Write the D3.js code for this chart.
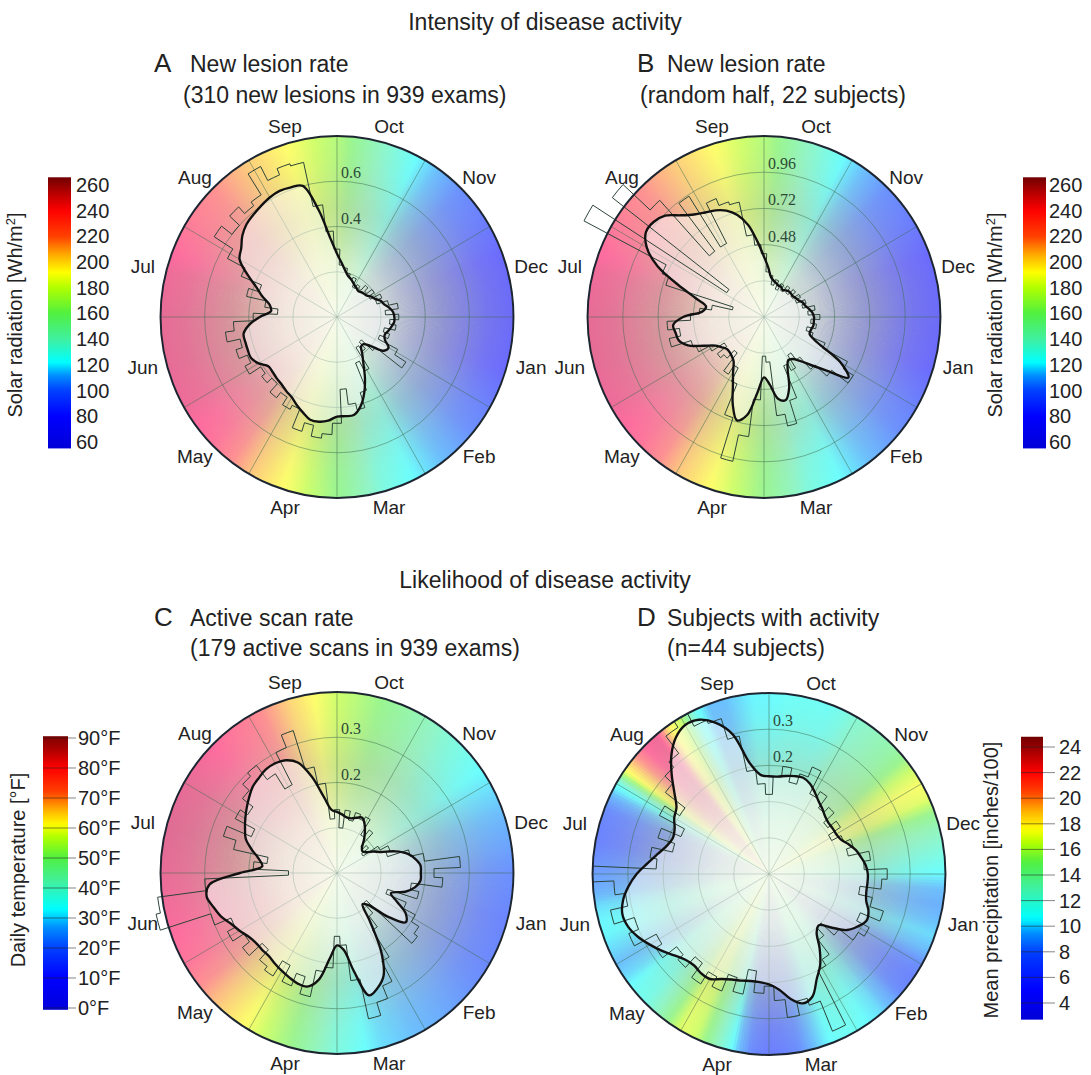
<!DOCTYPE html>
<html>
<head>
<meta charset="utf-8">
<script src="https://cdn.jsdelivr.net/npm/d3@7"></script>
<style>
  body { margin: 0; background: #fff; }
  text { font-family: "Liberation Sans", Arial, sans-serif; fill: #222; }
</style>
</head>
<body>
<svg id="fig" width="1091" height="1075"></svg>
<script>
// months clockwise from 12 o'clock, Oct first
var months = ["Oct","Nov","Dec","Jan","Feb","Mar","Apr","May","Jun","Jul","Aug","Sep"];

// rates read every 5 degrees clockwise from the Sep/Oct line
var rateA_smooth = [0.28,0.24,0.21,0.19,0.18,0.17,0.16,0.155,0.15,0.155,0.16,0.165,
  0.18,0.19,0.21,0.22,0.24,0.255,0.26,0.26,0.25,0.24,0.23,0.24,
  0.27,0.26,0.20,0.17,0.17,0.20,0.24,0.30,0.36,0.41,0.44,0.44,
  0.44,0.46,0.47,0.47,0.45,0.43,0.41,0.40,0.39,0.385,0.38,0.38,
  0.41,0.43,0.43,0.43,0.43,0.40,0.35,0.30,0.31,0.35,0.39,0.45,
  0.51,0.53,0.56,0.58,0.59,0.60,0.61,0.615,0.61,0.60,0.48,0.35];
var rateA_daily = [0.30,0.23,0.22,0.20,0.18,0.19,0.15,0.17,0.16,0.19,0.17,0.20,
  0.17,0.22,0.19,0.24,0.28,0.22,0.28,0.24,0.27,0.22,0.25,0.21,
  0.31,0.37,0.22,0.15,0.19,0.16,0.27,0.22,0.35,0.42,0.39,0.32,
  0.47,0.52,0.54,0.49,0.53,0.44,0.46,0.42,0.45,0.40,0.43,0.41,
  0.47,0.44,0.48,0.45,0.51,0.47,0.38,0.27,0.33,0.42,0.37,0.47,
  0.56,0.66,0.60,0.66,0.62,0.64,0.75,0.68,0.71,0.70,0.50,0.38];

var rateB_smooth = [0.40,0.33,0.27,0.25,0.24,0.23,0.23,0.22,0.23,0.24,0.24,0.24,
  0.25,0.26,0.28,0.29,0.31,0.33,0.34,0.34,0.34,0.33,0.33,0.40,
  0.60,0.70,0.55,0.45,0.38,0.34,0.33,0.38,0.50,0.57,0.55,0.45,
  0.40,0.50,0.66,0.71,0.62,0.50,0.42,0.36,0.34,0.33,0.33,0.35,
  0.38,0.45,0.55,0.60,0.61,0.62,0.55,0.42,0.40,0.48,0.62,0.80,
  0.92,0.98,0.98,0.95,0.88,0.83,0.80,0.78,0.75,0.70,0.62,0.50];
var rateB_daily = [0.42,0.30,0.28,0.22,0.26,0.20,0.25,0.21,0.26,0.22,0.27,0.23,
  0.28,0.24,0.30,0.27,0.35,0.30,0.38,0.32,0.36,0.30,0.35,0.45,
  0.64,0.72,0.58,0.47,0.36,0.30,0.40,0.35,0.58,0.74,0.66,0.30,
  0.26,0.55,0.80,0.98,0.70,0.48,0.38,0.45,0.30,0.37,0.40,0.32,
  0.42,0.50,0.52,0.66,0.58,0.66,0.50,0.44,0.36,0.22,0.70,0.75,
  1.38,0.30,1.30,1.05,0.55,0.95,0.55,0.85,0.80,0.78,0.55,0.48];

var rateC_smooth = [0.135,0.13,0.125,0.125,0.13,0.135,0.125,0.11,0.095,0.08,0.075,0.08,
  0.095,0.11,0.14,0.165,0.18,0.19,0.19,0.19,0.18,0.16,0.13,0.15,
  0.18,0.19,0.15,0.10,0.09,0.13,0.20,0.25,0.27,0.28,0.22,0.17,
  0.16,0.19,0.24,0.26,0.26,0.255,0.25,0.245,0.24,0.24,0.24,0.245,
  0.255,0.265,0.28,0.29,0.30,0.29,0.22,0.17,0.18,0.20,0.22,0.23,
  0.24,0.25,0.26,0.27,0.275,0.28,0.28,0.275,0.26,0.22,0.17,0.14];
var rateC_daily = [0.14,0.10,0.14,0.12,0.14,0.13,0.14,0.10,0.12,0.08,0.09,0.07,
  0.11,0.13,0.12,0.17,0.20,0.28,0.22,0.24,0.17,0.19,0.12,0.17,
  0.20,0.22,0.23,0.09,0.12,0.15,0.22,0.27,0.30,0.33,0.24,0.16,
  0.14,0.21,0.22,0.28,0.24,0.27,0.23,0.27,0.26,0.23,0.27,0.25,
  0.28,0.26,0.30,0.42,0.41,0.30,0.11,0.19,0.16,0.24,0.27,0.21,
  0.26,0.24,0.27,0.29,0.30,0.26,0.22,0.30,0.33,0.24,0.20,0.12];

var rateD_smooth = [0.17,0.17,0.175,0.18,0.183,0.175,0.16,0.145,0.135,0.125,0.12,0.12,
  0.12,0.125,0.14,0.155,0.165,0.175,0.18,0.18,0.18,0.185,0.20,0.205,
  0.19,0.17,0.13,0.10,0.11,0.15,0.19,0.22,0.26,0.27,0.25,0.22,
  0.205,0.20,0.20,0.205,0.21,0.22,0.235,0.235,0.23,0.235,0.25,0.27,
  0.29,0.31,0.325,0.33,0.32,0.30,0.275,0.245,0.22,0.20,0.19,0.195,
  0.21,0.22,0.25,0.29,0.33,0.36,0.375,0.37,0.345,0.30,0.21,0.175];
var rateD_daily = [0.12,0.17,0.20,0.16,0.19,0.22,0.15,0.17,0.13,0.15,0.11,0.14,
  0.10,0.13,0.15,0.13,0.19,0.17,0.235,0.22,0.16,0.20,0.24,0.18,
  0.22,0.20,0.15,0.10,0.13,0.18,0.20,0.37,0.28,0.26,0.30,0.25,
  0.21,0.23,0.17,0.24,0.20,0.25,0.22,0.26,0.21,0.25,0.23,0.28,
  0.26,0.33,0.30,0.36,0.31,0.34,0.40,0.22,0.24,0.18,0.23,0.17,
  0.25,0.20,0.27,0.30,0.32,0.38,0.40,0.36,0.35,0.29,0.19,0.15];

// background climate values, evenly spaced round the year
var solarRad = [170,140,118,100,88,75,72,78,92,105,118,132,160,188,208,235,245,248,248,245,232,220,205,190];
var dailyTemp = [57,50,44,37,31,25,20,17,18,22,26,30,38,50,60,68,78,81,83,84,83,80,75,65];
var precip = [10.5,10.8,11,11,11,11.5,12.5,13,13.5,14,15,16.5,
  17.5,17,15,13.5,12.5,11.5,10.5,9.5,9,9.5,10,9.5,
  8,7,7.5,9,10,10.5,11,11,10.5,9.5,8,7,
  6.5,7.5,9.5,12,14.5,16.5,17,15,13,11.5,11,10,
  9.5,10,10.5,10.5,10,9,8.5,8,7,7,7.5,9,
  11,17.5,20,22,22.5,18,16,11,9.5,9.5,10,10.5];

var solarTicks = [60,80,100,120,140,160,180,200,220,240,260];
var tempTicks = [0,10,20,30,40,50,60,70,80,90];
var precipTicks = [4,6,8,10,12,14,16,18,20,22,24];

// jet-like palette shared by the three colour bars
var jetColors = ["#0000d8","#0000ff","#0040ff","#0090ff","#00ffff","#40f0a0","#50f040",
  "#b0ff00","#ffff00","#ffb000","#ff4000","#ff0000","#b00000","#700000"];
var solarColor = d3.scaleLinear().domain([55,80,100,112,122,140,160,180,192,205,220,240,255,266]).range(jetColors);
var tempColor = d3.scaleLinear().domain([-2,10,20,27,33,42,50,57,61,66,72,80,86,92]).range(jetColors);
var precipColor = d3.scaleLinear().domain([2.7,5,8,9.5,10.6,13,15,16.5,17.6,19,20.5,22,23.5,24.8]).range(jetColors);

var svg = d3.select("#fig");
svg.append("rect").attr("width", 1091).attr("height", 1075).attr("fill", "#fff");
var defs = svg.append("defs");

var R = 181, SX = 0.975;

// washed out version of a colour for the dial background
function pastel(c) {
  var col = d3.rgb(c);
  var r = col.r + (255 - col.r) * 0.42, g = col.g + (255 - col.g) * 0.42, b = col.b + (255 - col.b) * 0.42;
  if (r > g && r > b) b = Math.min(255, b + (r - g) * 0.35);
  return d3.rgb(r, g, b).toString();
}

var fade = defs.append("radialGradient").attr("id", "fade").attr("cx", "50%").attr("cy", "50%").attr("r", "50%");
[[0, "#eef6d8", 0.95], [0.3, "#e2ecc8", 0.75], [0.6, "#c0c9a2", 0.45], [0.85, "#c0c9a2", 0.12], [1, "#c0c9a2", 0]]
  .forEach(function(s) {
    fade.append("stop").attr("offset", s[0]).attr("stop-color", s[1]).attr("stop-opacity", s[2]);
  });

function stepPath(vals, r) {
  var p = d3.path(), n = vals.length, w = 2 * Math.PI / n;
  vals.forEach(function(v, i) {
    var a0 = i * w - w / 2 - Math.PI / 2;
    p.arc(0, 0, r(v), a0, a0 + w);
  });
  p.closePath();
  return p.toString();
}

function drawPanel(p) {
  var g = svg.append("g").attr("transform", "translate(" + p.cx + "," + p.cy + ") scale(" + SX + ",1)");
  var r = d3.scaleLinear().domain(p.domain).range([0, R]);

  // background colour wedges
  var n = p.bg.length, step = 360 / n;
  var bgAt = d3.scaleLinear().domain(d3.range(n + 1).map(function(i) { return i * step; }))
    .range(p.bg.concat([p.bg[0]]));
  var arc = d3.arc().innerRadius(0).outerRadius(R);
  g.selectAll("path.bg").data(d3.range(360)).join("path")
    .attr("class", "bg")
    .attr("d", function(d) { return arc({startAngle: d * Math.PI / 180, endAngle: (d + 1.3) * Math.PI / 180}); })
    .attr("fill", function(d) { return pastel(p.color(bgAt(d + 0.5))); });
  g.append("circle").attr("r", R).attr("fill", "url(#fade)");

  // grid
  g.selectAll("circle.ring").data(p.rings).join("circle")
    .attr("class", "ring").attr("r", function(d) { return r(d); })
    .attr("fill", "none").attr("stroke", "#3d6b4f").attr("stroke-opacity", 0.5).attr("stroke-width", 1);
  g.selectAll("line.spoke").data(d3.range(12)).join("line")
    .attr("class", "spoke")
    .attr("x2", function(d) { return R * Math.sin(d * Math.PI / 6); })
    .attr("y2", function(d) { return -R * Math.cos(d * Math.PI / 6); })
    .attr("stroke", "#3d6b4f").attr("stroke-opacity", 0.5).attr("stroke-width", 1);

  var w = 2 * Math.PI / p.smooth.length;
  var line = d3.lineRadial()
    .angle(function(d, i) { return i * w; })
    .radius(function(d) { return r(d); })
    .curve(d3.curveCatmullRomClosed.alpha(0.5));

  g.append("path").attr("d", line(p.smooth)).attr("fill", "#fff").attr("fill-opacity", 0.5);
  g.append("path").attr("d", stepPath(p.daily, r)).attr("fill", "none")
    .attr("stroke", "#2a4236").attr("stroke-width", 1);
  g.append("path").attr("d", line(p.smooth)).attr("fill", "none")
    .attr("stroke", "#111").attr("stroke-width", 2.4).attr("stroke-linejoin", "round");
  g.append("circle").attr("r", R).attr("fill", "none").attr("stroke", "#1c2530").attr("stroke-width", 2);

  // ring labels
  svg.append("g").selectAll("text").data(p.labels).join("text")
    .attr("x", p.cx + 4)
    .attr("y", function(d) { return p.cy - r(d) - 3; })
    .style("font-family", "'Liberation Serif', 'Times New Roman', serif")
    .style("fill", "#2d4a38")
    .attr("font-size", 16)
    .text(function(d) { return d; });

  // month labels
  svg.append("g").selectAll("text").data(months).join("text")
    .attr("x", function(d, i) { return p.cx + 201 * Math.sin((i * 30 + 15) * Math.PI / 180); })
    .attr("y", function(d, i) { return p.cy - 197 * Math.cos((i * 30 + 15) * Math.PI / 180); })
    .attr("text-anchor", "middle").attr("dominant-baseline", "central")
    .attr("font-size", 19)
    .text(function(d) { return d; });
}

function drawColorbar(c) {
  var y = d3.scaleLinear().domain([c.ticks[0], c.ticks[c.ticks.length - 1]]).range([c.yLo, c.yHi]);
  var id = "cb" + c.x;
  var grad = defs.append("linearGradient").attr("id", id).attr("x1", 0).attr("y1", 0).attr("x2", 0).attr("y2", 1);
  d3.range(61).forEach(function(k) {
    var v = c.top - (c.top - c.bottom) * k / 60;
    grad.append("stop").attr("offset", k / 60).attr("stop-color", c.color(v));
  });
  svg.append("rect").attr("x", c.x).attr("y", y(c.top)).attr("width", c.w)
    .attr("height", y(c.bottom) - y(c.top)).attr("fill", "url(#" + id + ")");

  if (c.tickLines) {
    svg.append("g").selectAll("line").data(c.ticks).join("line")
      .attr("x1", c.x).attr("x2", c.x + c.w + c.tickLines)
      .attr("y1", function(d) { return y(d); }).attr("y2", function(d) { return y(d); })
      .attr("stroke", "#222").attr("stroke-opacity", 0.55).attr("stroke-width", 1);
  }

  var ax = svg.append("g").attr("transform", "translate(" + (c.x + c.w) + ",0)")
    .call(d3.axisRight(y).tickValues(c.ticks).tickSize(0).tickPadding(c.pad).tickFormat(c.fmt));
  ax.select(".domain").remove();
  ax.attr("font-family", null).attr("font-size", null);
  ax.selectAll("text").attr("font-size", 20).style("fill", "#222");

  var t = svg.append("text")
    .attr("transform", "translate(" + c.tx + "," + c.ty + ") rotate(-90)")
    .attr("text-anchor", "middle").attr("font-size", 20);
  c.title(t);
}

// panels
drawPanel({cx: 337, cy: 317, domain: [0, 0.8], rings: [0.2, 0.4, 0.6], labels: [0.4, 0.6],
  smooth: rateA_smooth, daily: rateA_daily, bg: solarRad, color: solarColor});
drawPanel({cx: 764, cy: 317, domain: [0, 1.2], rings: [0.24, 0.48, 0.72, 0.96], labels: [0.48, 0.72, 0.96],
  smooth: rateB_smooth, daily: rateB_daily, bg: solarRad, color: solarColor});
drawPanel({cx: 337, cy: 873, domain: [0, 0.4], rings: [0.1, 0.2, 0.3], labels: [0.2, 0.3],
  smooth: rateC_smooth, daily: rateC_daily, bg: dailyTemp, color: tempColor});
drawPanel({cx: 769, cy: 874, domain: [-0.1, 0.4], rings: [0, 0.1, 0.2, 0.3], labels: [0.2, 0.3],
  smooth: rateD_smooth, daily: rateD_daily, bg: precip, color: precipColor});

// colour bars
function solarTitle(t) {
  t.append("tspan").text("Solar radiation [Wh/m");
  t.append("tspan").attr("baseline-shift", "super").attr("font-size", 13).text("2");
  t.append("tspan").text("]");
}
drawColorbar({x: 48, w: 23, ticks: solarTicks, yLo: 442, yHi: 185, top: 266, bottom: 55, color: solarColor,
  pad: 5, fmt: d3.format("d"), tx: 22, ty: 315, title: solarTitle});
drawColorbar({x: 1023, w: 23, ticks: solarTicks, yLo: 442, yHi: 185, top: 266, bottom: 55, color: solarColor,
  pad: 3, fmt: d3.format("d"), tx: 1002, ty: 315, title: solarTitle});
drawColorbar({x: 43, w: 25, ticks: tempTicks, yLo: 1008, yHi: 738, top: 90.6, bottom: -0.6, color: tempColor,
  pad: 10, tickLines: 8, fmt: function(d) { return d + "\u00b0F"; }, tx: 25, ty: 870,
  title: function(t) { t.text("Daily temperature  [\u00b0F]"); }});
drawColorbar({x: 1021, w: 22, ticks: precipTicks, yLo: 1003, yHi: 747, top: 24.8, bottom: 2.7, color: precipColor,
  pad: 16, tickLines: 12, fmt: d3.format("d"), tx: 998, ty: 880,
  title: function(t) { t.text("Mean  precipitation  [inches/100]"); }});

// headings
var heads = [
  {x: 545, y: 30, s: 23, a: "middle", t: "Intensity of disease activity"},
  {x: 545, y: 588, s: 23, a: "middle", t: "Likelihood of disease activity"},
  {x: 154, y: 72, s: 26, t: "A"}, {x: 190, y: 72, s: 23, t: "New lesion rate"},
  {x: 183, y: 103, s: 23, t: "(310 new lesions in 939 exams)"},
  {x: 637, y: 72, s: 26, t: "B"}, {x: 667, y: 72, s: 23, t: "New lesion rate"},
  {x: 640, y: 103, s: 23, t: "(random half, 22 subjects)"},
  {x: 154, y: 626, s: 26, t: "C"}, {x: 190, y: 626, s: 23, t: "Active scan rate"},
  {x: 190, y: 656, s: 23, t: "(179 active scans in 939 exams)"},
  {x: 637, y: 626, s: 26, t: "D"}, {x: 667, y: 626, s: 23, t: "Subjects with activity"},
  {x: 667, y: 656, s: 23, t: "(n=44 subjects)"}
];
svg.append("g").selectAll("text").data(heads).join("text")
  .attr("x", function(d) { return d.x; }).attr("y", function(d) { return d.y; })
  .attr("font-size", function(d) { return d.s; })
  .attr("text-anchor", function(d) { return d.a || "start"; })
  .text(function(d) { return d.t; });
</script>
</body>
</html>
